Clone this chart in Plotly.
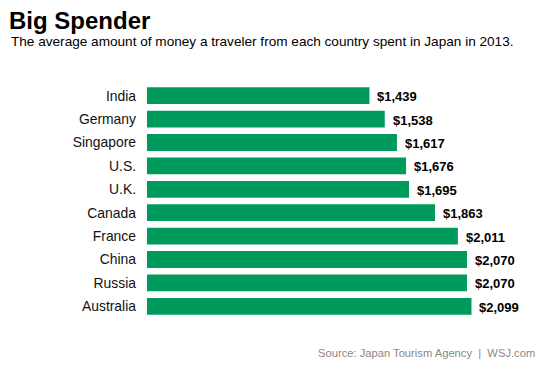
import plotly.graph_objects as go

countries = ["India", "Germany", "Singapore", "U.S.", "U.K.", "Canada", "France", "China", "Russia", "Australia"]
spending = [1439, 1538, 1617, 1676, 1695, 1863, 2011, 2070, 2070, 2099]
labels = ["$1,439", "$1,538", "$1,617", "$1,676", "$1,695", "$1,863", "$2,011", "$2,070", "$2,070", "$2,099"]

FONT = "Liberation Sans, Arial, sans-serif"
GREEN = "#009A5D"

# page body has an 8px margin; lay out in screen coordinates then offset
OFF = 8
W, H = 553 - OFF, 369 - OFF
L, R, T, B = 147 - OFF, 35, 84 - OFF, 51
PW, PH = W - L - R, H - T - B

def px(x):
    return (x - OFF - L) / PW

def py(y):
    return (H - B - (y - OFF)) / PH

fig = go.Figure(go.Bar(
    x=spending, y=countries, orientation="h",
    marker=dict(color=GREEN, line=dict(width=0)),
    width=0.72, hoverinfo="skip",
))

anns = []
for c, v, t in zip(countries, spending, labels):
    anns.append(dict(x=v, y=c, text="<b>" + t + "</b>", showarrow=False,
                     xanchor="left", xshift=6, yshift=-1,
                     font=dict(family=FONT, size=13, color="#000")))

anns += [
    dict(text="<b>Big Spender</b>", x=px(7), y=py(20),
         xref="paper", yref="paper", xanchor="left", yanchor="middle", showarrow=False,
         font=dict(family=FONT, size=24, color="#000")),
    dict(text="The average amount of money a traveler from each country spent in Japan in 2013.",
         x=px(9), y=py(41),
         xref="paper", yref="paper", xanchor="left", yanchor="middle", showarrow=False,
         font=dict(family=FONT, size=13.6, color="#000")),
    dict(text="Source: Japan Tourism Agency  |  WSJ.com",
         x=px(537), y=py(353),
         xref="paper", yref="paper", xanchor="right", yanchor="middle", showarrow=False,
         font=dict(family=FONT, size=11.2, color="#888")),
]

fig.update_layout(
    width=W, height=H,
    margin=dict(l=L, r=R, t=T, b=B, autoexpand=False),
    paper_bgcolor="white", plot_bgcolor="white",
    showlegend=False,
    font=dict(family=FONT, color="#000"),
    xaxis=dict(range=[0, 2400], visible=False, fixedrange=True),
    yaxis=dict(autorange="reversed", showgrid=False, zeroline=False, showline=False,
               automargin=False, ticks="", ticklabelstandoff=10,
               tickfont=dict(family=FONT, size=13.9, color="#111")),
    annotations=anns,
)

fig.write_html("out.html")
